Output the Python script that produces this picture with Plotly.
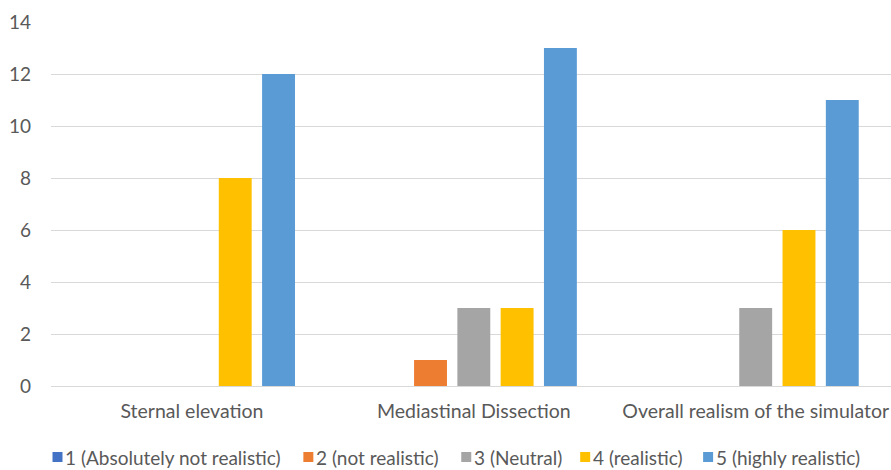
import plotly.graph_objects as go

categories = ["Sternal elevation", "Mediastinal Dissection", "Overall realism of the simulator"]
series_names = ["1 (Absolutely not realistic)", "2 (not realistic)", "3 (Neutral)", "4 (realistic)", "5 (highly realistic)"]
s1 = [0, 0, 0]
s2 = [0, 1, 0]
s3 = [0, 3, 3]
s4 = [8, 3, 6]
s5 = [12, 13, 11]
colors = ["#4472C4", "#ED7D31", "#A5A5A5", "#FFC000", "#5B9BD5"]

font_family = "Lato, sans-serif"
W, H = 891, 470
L, R, T, B = 50.5, 0, 22, 84
pw, ph = W - L - R, H - T - B

fig = go.Figure()
for name, vals, c in zip(series_names, [s1, s2, s3, s4, s5], colors):
    fig.add_trace(go.Bar(x=categories, y=vals, name=name, marker_color=c, marker_line_width=0,
                         showlegend=False))

# manual legend (compact, like the original)
legend_px = [52, 303, 461, 580, 703]
legend_y = 457
for name, c, px in zip(series_names, colors, legend_px):
    x0 = (px - L) / pw
    x1 = (px + 10 - L) / pw
    y0 = (T + ph - (legend_y + 5)) / ph
    y1 = (T + ph - (legend_y - 5)) / ph
    fig.add_shape(type="rect", xref="paper", yref="paper", x0=x0, x1=x1, y0=y0, y1=y1,
                  fillcolor=c, line_width=0)
    fig.add_annotation(text=name, xref="paper", yref="paper", x=(px + 12 - L) / pw,
                       y=(T + ph - legend_y) / ph, xanchor="left", yanchor="middle",
                       showarrow=False, borderpad=0,
                       font=dict(size=19, color="#595959", family=font_family))

fig.update_layout(
    width=W, height=H,
    margin=dict(l=L, r=R, t=T, b=B),
    paper_bgcolor="white", plot_bgcolor="white",
    barmode="group", bargap=0.232, bargroupgap=0.24,
    font=dict(family=font_family, color="#595959", size=19),
    xaxis=dict(range=[-0.5, 2.48], showgrid=False, showline=False, ticks="", tickfont=dict(size=19.5),
               ticklabelstandoff=11),
    yaxis=dict(range=[0, 14], dtick=2, showgrid=True, gridcolor="#D9D9D9", gridwidth=1,
               zeroline=True, zerolinecolor="#D9D9D9", zerolinewidth=1, showline=False,
               ticks="", tickfont=dict(size=19), ticklabelstandoff=19),
)

fig.write_html("out.html")
